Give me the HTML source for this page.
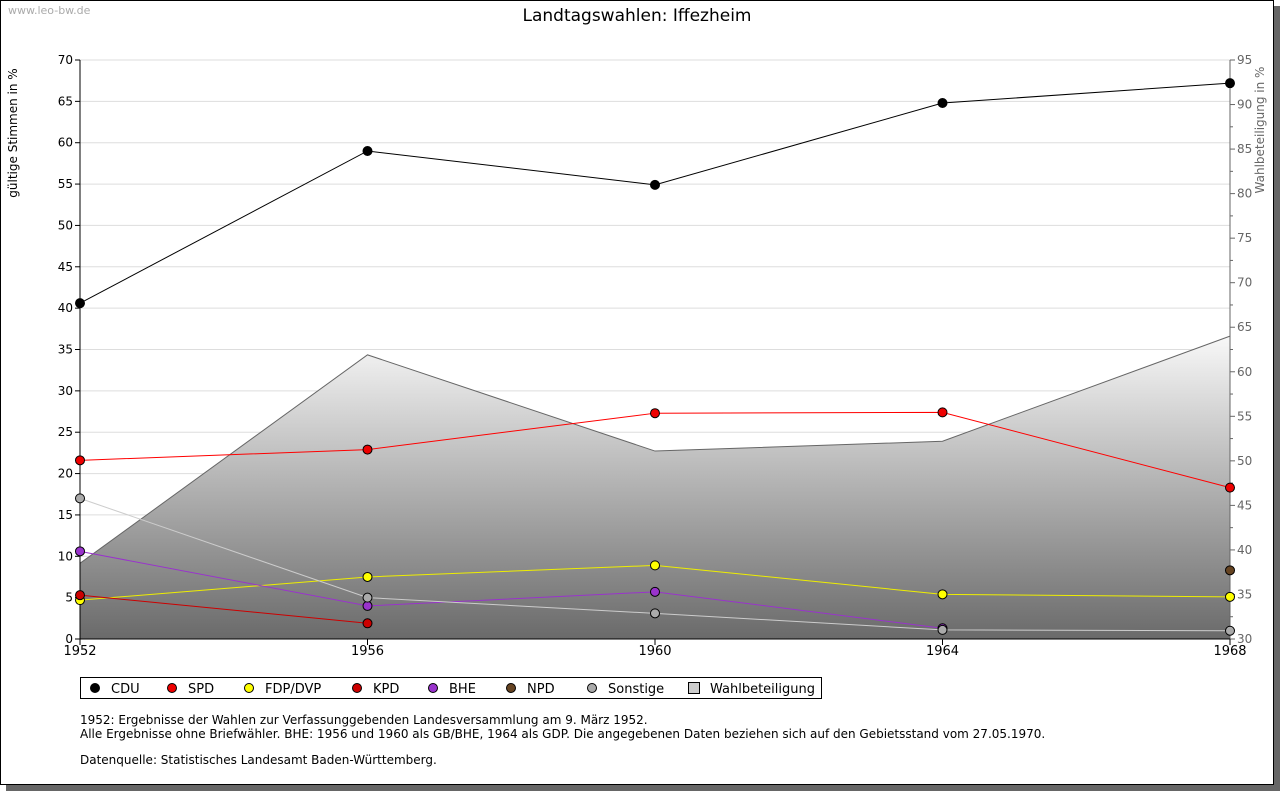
<!DOCTYPE html>
<html><head><meta charset="utf-8"><style>
body{margin:0;background:#fff;font-family:"DejaVu Sans","Liberation Sans",sans-serif;}
svg text{font-family:"DejaVu Sans","Liberation Sans",sans-serif;}
</style></head><body>
<svg id="chart" width="1280" height="791" xmlns="http://www.w3.org/2000/svg">
<defs>
<linearGradient id="g" x1="0" y1="0" x2="0" y2="1"><stop offset="0" stop-color="#f8f8f8"/><stop offset="1" stop-color="#6a6a6a"/></linearGradient>
</defs>
<rect x="0.5" y="0.5" width="1273" height="784" fill="#fff" stroke="#000"/>
<rect x="1274" y="6" width="6" height="785" fill="#666"/>
<rect x="6" y="785" width="1274" height="6" fill="#666"/>
<text x="8" y="14" font-size="11" fill="#aaa">www.leo-bw.de</text>
<text x="637" y="21" font-size="17" text-anchor="middle">Landtagswahlen: Iffezheim</text>
<text transform="translate(17,133) rotate(-90)" font-size="12" text-anchor="middle">gültige Stimmen in %</text>
<text transform="translate(1264,130) rotate(-90)" font-size="12" fill="#666" text-anchor="middle">Wahlbeteiligung in %</text>
<g id="grid"></g><g id="area"></g><g id="axes"></g><g id="series"></g>
<g>
<rect x="80.5" y="677.5" width="741" height="21" fill="#fff" stroke="#000"/>
<g id="legend"></g>
</g>
<text x="80" y="724" font-size="12">1952: Ergebnisse der Wahlen zur Verfassunggebenden Landesversammlung am 9. März 1952.</text>
<text x="80" y="738" font-size="12">Alle Ergebnisse ohne Briefwähler. BHE: 1956 und 1960 als GB/BHE, 1964 als GDP. Die angegebenen Daten beziehen sich auf den Gebietsstand vom 27.05.1970.</text>
<text x="80" y="764" font-size="12">Datenquelle: Statistisches Landesamt Baden-Württemberg.</text>
</svg>
<script>
const years=[1952,1956,1960,1964,1968];
const cdu=[40.6,59.0,54.9,64.8,67.2];
const spd=[21.6,22.9,27.3,27.4,18.3];
const fdp=[4.7,7.5,8.9,5.4,5.1];
const kpd=[5.3,1.9,null,null,null];
const bhe=[10.6,4.0,5.7,1.3,null];
const npd=[null,null,null,null,8.3];
const sonstige=[17.0,5.0,3.1,1.1,1.0];
const turnout=[38.5,61.9,51.1,52.2,64.0];
const leftTicks=[0,5,10,15,20,25,30,35,40,45,50,55,60,65,70];
const rightTicks=[30,35,40,45,50,55,60,65,70,75,80,85,90,95];
const NS="http://www.w3.org/2000/svg";
const X0=80,X1=1230,YB=639,YT=60;
const xs=y=>X0+(y-1952)/(1968-1952)*(X1-X0);
const yl=v=>YB-v/70*(YB-YT);
const yr=v=>YB-(v-30)/65*(YB-YT);
function mk(t,a,p){const e=document.createElementNS(NS,t);for(const k in a)e.setAttribute(k,a[k]);p.appendChild(e);return e;}
const grid=document.getElementById('grid'),axes=document.getElementById('axes'),ser=document.getElementById('series'),area=document.getElementById('area');
leftTicks.forEach(v=>{
 if(v>0){const l=mk('line',{x1:X0,x2:X1,y1:yl(v),y2:yl(v),stroke:'#ddd'},grid);
 
 }
 mk('line',{x1:X0-5,x2:X0,y1:yl(v),y2:yl(v),stroke:'#000'},axes);
 const t=mk('text',{x:X0-7,y:yl(v)+4,'font-size':12,'text-anchor':'end'},axes);t.textContent=v;
 
 
});
rightTicks.forEach(v=>{
 mk('line',{x1:X1,x2:X1+5,y1:yr(v),y2:yr(v),stroke:'#666'},axes);
 if(v<95)mk('line',{x1:X1,x2:X1+3,y1:yr(v+2.5),y2:yr(v+2.5),stroke:'#666'},axes);
 const t=mk('text',{x:X1+7,y:yr(v)+4,'font-size':12,fill:'#666'},axes);t.textContent=v;
 
 
});
// area
let d='M'+xs(years[0])+','+YB;years.forEach((y,i)=>d+=' L'+xs(y)+','+yr(turnout[i]));d+=' L'+xs(years[4])+','+YB+' Z';
const ar=mk('path',{d:d,fill:'url(#g)'},area);


let d2='';years.forEach((y,i)=>d2+=(i?' L':'M')+xs(y)+','+yr(turnout[i]));
mk('path',{d:d2,fill:'none',stroke:'#666'},area);
mk('line',{x1:X0,x2:X0,y1:YT,y2:YB,stroke:'#000'},axes);
mk('line',{x1:X1,x2:X1,y1:YT,y2:YB,stroke:'#666'},axes);
mk('line',{x1:X0,x2:X1,y1:YB,y2:YB,stroke:'#000'},axes);
years.forEach(y=>{mk('line',{x1:xs(y),x2:xs(y),y1:YB,y2:YB+6,stroke:'#000'},axes);
 const t=mk('text',{x:xs(y),y:YB+16,'font-size':13,'text-anchor':'middle'},axes);t.textContent=y;
 
 });
const S=[['CDU',cdu,'#000','#000'],['SPD',spd,'#f00','#e00'],['FDP/DVP',fdp,'#ee0','#ff0'],['KPD',kpd,'#c00','#c00'],['BHE',bhe,'#93c','#93c'],['NPD',npd,'#642','#642'],['Sonstige',sonstige,'#ccc','#aaa']];
S.forEach(([n,v,lc,fc])=>{
 const g=mk('g',{},ser);
 
 
 let p='';let started=false;
 v.forEach((val,i)=>{if(val==null){return;}p+=(started?' L':'M')+xs(years[i])+','+yl(val);started=true;});
 mk('path',{d:p,fill:'none',stroke:lc},g);
 v.forEach((val,i)=>{if(val==null)return;
  const c=mk('circle',{cx:xs(years[i]),cy:yl(val),r:4.5,fill:fc,stroke:'#000'},g);
  
  });
});
const leg=document.getElementById('legend');
const lx=[95,172,249,357,433,511,592];
S.forEach(([n,v,lc,fc],i)=>{
 const c=mk('circle',{cx:lx[i],cy:688,r:4.5,fill:fc,stroke:'#000'},leg);
 
 
 const t=mk('text',{x:lx[i]+16,y:693,'font-size':13},leg);t.textContent=n;
 
 
});
mk('rect',{x:688.5,y:682.5,width:11,height:11,fill:'#ccc',stroke:'#000'},leg);
const wt=mk('text',{x:710,y:693,'font-size':13},leg);wt.textContent='Wahlbeteiligung';


</script>
</body></html>
